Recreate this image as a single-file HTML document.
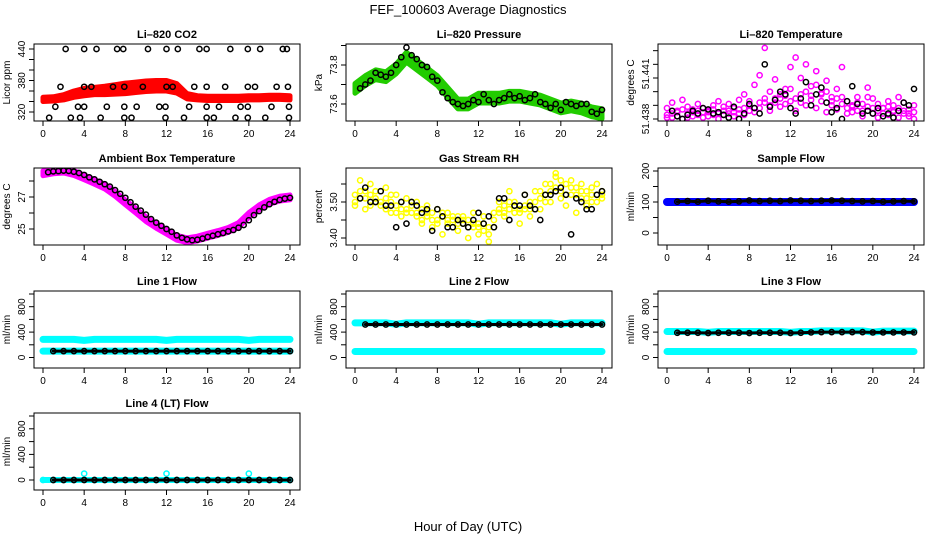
<!DOCTYPE html>
<html><head><meta charset="utf-8">
<style>
html,body{margin:0;padding:0;background:#fff;}
svg{display:block;font-family:"Liberation Sans",Arial,sans-serif;}
</style></head>
<body>
<svg id="chart" width="936" height="540" viewBox="0 0 936 540" xmlns="http://www.w3.org/2000/svg">
<rect width="936" height="540" fill="#fff"/>
<text x="468" y="14" font-size="13" text-anchor="middle">FEF_100603  Average Diagnostics</text>
<text x="468" y="531" font-size="13" text-anchor="middle">Hour of Day (UTC)</text>
</svg>
<script>
const HOURS = [0,0.5,1,1.5,2,2.5,3,3.5,4,4.5,5,5.5,6,6.5,7,7.5,8,8.5,9,9.5,10,10.5,11,11.5,12,12.5,13,13.5,14,14.5,15,15.5,16,16.5,17,17.5,18,18.5,19,19.5,20,20.5,21,21.5,22,22.5,23,23.5,24];
const HOURLY = [0,1,2,3,4,5,6,7,8,9,10,11,12,13,14,15,16,17,18,19,20,21,22,23,24];
const X_TICKS = [0,4,8,12,16,20,24];

// CO2
const co2Band = [344,345,348,354,358,360,361,363,365,367,369,370,370,365,350,347,346,346,346,346,347,347,348,348,347];
const co2Spread = [4,4,5,6,7,7,8,9,10,10,10,10,10,9,5,4,4,4,4,4,4,4,4,4,4];
const co2BlackHours = [2.2,4.0,5.2,7.2,7.8,10.2,12.0,13.1,15.2,15.9,18.2,19.9,21.1,23.3,23.7, 1.7,4.0,4.7,6.8,7.9,9.7,12.0,12.6,14.7,15.9,17.7,19.9,20.6,22.7,23.8, 1.2,3.4,4.0,6.2,7.9,9.1,11.3,11.9,14.2,15.9,17.1,19.2,19.9,22.2,23.9, 0.6,2.7,3.6,5.6,7.9,8.6,11.9,13.7,15.9,16.6,18.7,19.9,21.6,23.9];
const co2BlackVals = [440,440,440,440,440,440,440,440,440,440,440,440,440,440,440, 368,368,368,368,368,368,368,368,368,368,368,368,368,368,368, 330,330,330,330,330,330,330,330,330,330,330,330,330,330,330, 309,309,309,309,309,309,309,309,309,309,309,309,309,309];

// Pressure
const presBand = [73.68,73.72,73.75,73.74,73.78,73.84,73.80,73.76,73.72,73.66,73.60,73.60,73.63,73.63,73.63,73.64,73.64,73.63,73.62,73.60,73.58,73.59,73.58,73.56,73.55];
const presSpread = [0.025,0.025,0.025,0.025,0.025,0.025,0.025,0.025,0.025,0.025,0.025,0.025,0.025,0.025,0.025,0.025,0.025,0.025,0.025,0.025,0.025,0.025,0.025,0.025,0.025];
const presBlack = [73.68,73.70,73.72,73.76,73.75,73.74,73.76,73.80,73.84,73.89,73.85,73.83,73.80,73.79,73.74,73.72,73.66,73.63,73.61,73.60,73.59,73.60,73.62,73.61,73.65,73.62,73.60,73.62,73.63,73.65,73.63,73.64,73.62,73.63,73.65,73.61,73.60,73.58,73.60,73.57,73.61,73.60,73.59,73.60,73.60,73.56,73.55,73.57];

// Li-820 temperature
const ltempA = [51.4383,51.4381,51.4385,51.4380,51.4384,51.4382,51.4386,51.4381,51.4385,51.4383,51.4380,51.4386,51.4384,51.4382,51.4387,51.4383,51.4390,51.4385,51.4388,51.4392,51.4386,51.4395,51.4389,51.4397,51.4393,51.4386,51.4398,51.4390,51.4394,51.4388,51.4399,51.4385,51.4393,51.4387,51.4396,51.4384,51.4390,51.4386,51.4382,51.4389,51.4384,51.4381,51.4388,51.4383,51.4386,51.4381,51.4384,51.4382,51.4380];
const ltempB = [51.4388,51.4392,51.4386,51.4394,51.4389,51.4387,51.4391,51.4388,51.4386,51.4390,51.4393,51.4389,51.4391,51.4388,51.4394,51.4398,51.4393,51.4405,51.4412,51.4432,51.4400,51.4409,51.4395,51.4402,51.4418,51.4425,51.4410,51.4420,51.4404,51.4415,51.4398,51.4408,51.4396,51.4402,51.4418,51.4393,51.4389,51.4396,51.4391,51.4403,51.4395,51.4391,51.4388,51.4393,51.4390,51.4396,51.4392,51.4387,51.4390];
const ltempC = [51.4381,51.4384,51.4382,51.4387,51.4381,51.4385,51.4383,51.4385,51.4382,51.4387,51.4384,51.4383,51.4386,51.4385,51.4384,51.4388,51.4386,51.4388,51.4392,51.4395,51.4390,51.4392,51.4398,51.4391,51.4402,51.4395,51.4392,51.4400,51.4397,51.4405,51.4393,51.4400,51.4390,51.4395,51.4391,51.4388,51.4385,51.4392,51.4386,51.4396,51.4388,51.4386,51.4384,51.4389,51.4385,51.4388,51.4386,51.4384,51.4385];
const ltempBlack = [51.4386,51.4382,51.4380,51.4383,51.4386,51.4384,51.4388,51.4387,51.4384,51.4385,51.4383,51.4381,51.4389,51.4380,51.4384,51.4391,51.4388,51.4384,51.4420,51.4389,51.4394,51.4400,51.4398,51.4388,51.4384,51.4395,51.4407,51.4390,51.4398,51.4403,51.4392,51.4385,51.4388,51.4380,51.4393,51.4404,51.4391,51.4384,51.4386,51.4384,51.4388,51.4382,51.4384,51.4381,51.4386,51.4392,51.4390,51.4402];

// Ambient box temperature
const ambBand = [28.48,28.6,28.65,28.5,28.23,27.95,27.65,27.2,26.67,26.15,25.62,25.2,24.83,24.45,24.3,24.4,24.58,24.75,24.94,25.25,25.87,26.35,26.7,26.9,26.98];
const ambSpread = [0.15,0.15,0.15,0.15,0.15,0.15,0.15,0.15,0.15,0.15,0.15,0.15,0.15,0.15,0.15,0.15,0.15,0.15,0.15,0.15,0.15,0.15,0.15,0.15,0.15];
const ambBlack = [28.55,28.6,28.62,28.65,28.63,28.58,28.5,28.38,28.23,28.1,27.95,27.8,27.65,27.43,27.2,26.95,26.67,26.4,26.15,25.9,25.62,25.4,25.2,25.0,24.83,24.6,24.45,24.35,24.3,24.33,24.4,24.5,24.58,24.67,24.75,24.85,24.94,25.08,25.25,25.55,25.87,26.12,26.35,26.55,26.7,26.82,26.9,26.95];

// Gas stream RH
const rhA = [3.49,3.51,3.53,3.52,3.50,3.53,3.51,3.50,3.49,3.50,3.48,3.49,3.47,3.48,3.46,3.47,3.45,3.46,3.44,3.45,3.46,3.44,3.45,3.43,3.44,3.42,3.41,3.45,3.47,3.49,3.48,3.50,3.47,3.49,3.48,3.50,3.51,3.52,3.55,3.57,3.53,3.55,3.52,3.54,3.51,3.53,3.50,3.52,3.51];
const rhB = [3.52,3.56,3.48,3.55,3.53,3.49,3.54,3.47,3.52,3.46,3.51,3.47,3.50,3.44,3.49,3.43,3.48,3.41,3.47,3.43,3.42,3.46,3.40,3.47,3.41,3.46,3.39,3.43,3.50,3.46,3.53,3.47,3.44,3.52,3.46,3.53,3.48,3.55,3.50,3.58,3.56,3.49,3.56,3.47,3.55,3.49,3.54,3.55,3.53];
const rhC = [3.50,3.53,3.51,3.49,3.51,3.50,3.48,3.52,3.47,3.48,3.47,3.50,3.46,3.45,3.47,3.45,3.44,3.47,3.45,3.46,3.44,3.45,3.43,3.44,3.43,3.44,3.43,3.47,3.48,3.47,3.50,3.49,3.48,3.48,3.50,3.48,3.53,3.50,3.53,3.54,3.51,3.52,3.54,3.52,3.53,3.51,3.52,3.50,3.52];
const rhBlack = [3.51,3.54,3.50,3.50,3.53,3.49,3.49,3.43,3.50,3.44,3.50,3.49,3.47,3.48,3.42,3.48,3.46,3.43,3.43,3.45,3.44,3.43,3.45,3.47,3.44,3.46,3.43,3.51,3.51,3.45,3.49,3.49,3.52,3.49,3.48,3.45,3.52,3.52,3.53,3.54,3.52,3.41,3.51,3.50,3.48,3.48,3.52,3.53];

// Flows (hourly)
const sampleBlue  = [100,100,100,100,100,100,100,100,100,100,100,100,100,100,100,100,100,100,100,100,100,100,100,100,100];
const sampleBlack = [100,101,103,101,104,102,101,102,105,103,104,103,105,104,103,104,105,104,103,102,103,101,102,103,102];
const line1High  = [285,285,285,285,270,285,285,285,285,285,285,285,270,285,285,285,285,285,285,285,270,285,285,285,285];
const line1Low   = [100,100,100,100,100,100,100,100,100,100,100,100,100,100,100,100,100,100,100,100,100,100,100,100,100];
const line1Black = [100,100,100,100,100,100,100,100,100,100,100,100,100,100,100,100,100,100,100,100,100,100,100,100,100];
const line2High  = [545,545,545,545,525,545,545,545,545,545,545,545,525,545,545,545,545,545,545,545,525,545,545,545,545];
const line2Low   = [95,95,95,95,95,95,95,95,95,95,95,95,95,95,95,95,95,95,95,95,95,95,95,95,95];
const line2Black = [520,520,520,520,520,520,520,520,520,520,520,520,520,520,520,520,520,520,520,520,520,520,520,520,520];
const line3High  = [410,410,410,410,395,410,410,410,410,410,410,410,395,410,410,420,420,420,420,420,400,415,415,415,415];
const line3Low   = [95,95,95,95,95,95,95,95,95,95,95,95,95,95,95,95,95,95,95,95,95,95,95,95,95];
const line3Black = [390,390,390,390,385,390,390,390,385,390,390,390,385,390,395,400,400,400,400,400,395,395,395,395,395];
const line4Cyan  = [0,0,0,0,100,0,0,0,0,0,0,0,100,0,0,0,0,0,0,0,100,0,0,0,0];
const line4Black = [0,0,0,0,0,0,0,0,0,0,0,0,0,0,0,0,0,0,0,0,0,0,0,0,0];

const CO2_TICKS=[320,340,360,380,400,420,440], CO2_LABELS=[320,380,440];
const PRES_TICKS=[73.6,73.7,73.8,73.9], PRES_LABELS=[73.6,73.8];
const LT_TICKS=[51.438,51.439,51.440,51.441,51.442,51.443];
const AMB_TICKS=[25,26,27,28], AMB_LABELS=[25,27];
const RH_TICKS=[3.40,3.45,3.50,3.55], RH_LABELS=[3.40,3.50];
const SF_TICKS=[0,50,100,150,200], SF_LABELS=[0,100,200];
const FL_TICKS=[0,200,400,600,800,1000], FL_LABELS=[0,400,800];

const svg=document.getElementById('chart');
const NS='http://www.w3.org/2000/svg';
const COLS=[34,346,658], ROWS=[44,168,291,413], W=266, H=77;
function mk(tag,attrs,parent){const e=document.createElementNS(NS,tag);for(const k in attrs)e.setAttribute(k,attrs[k]);(parent||svg).appendChild(e);return e;}

function panel(o){
  const L=COLS[o.col], T=ROWS[o.row];
  const g=mk('g',{});
  
  
  const xs=h=>L+9+h*10.2917;
  const ys=v=>T+o.a[1]+(v-o.a[0])*(o.b[1]-o.a[1])/(o.b[0]-o.a[0]);
  const cid='c'+o.name;
  const cp=mk('clipPath',{id:cid},g); mk('rect',{x:L,y:T,width:W,height:H},cp);
  const plot=mk('g',{'clip-path':'url(#'+cid+')'},g);
  const box=mk('rect',{x:L,y:T,width:W,height:H,fill:'none',stroke:'#000','stroke-width':1},g);
  
  
  const t=mk('text',{x:L+W/2,y:T-6,'font-size':11,'font-weight':'bold','text-anchor':'middle'},g);
  t.textContent=o.title;
  
  
  const yl=mk('text',{x:0,y:0,'font-size':10,'text-anchor':'middle',transform:`translate(${L-24},${T+H/2}) rotate(-90)`},g);
  yl.textContent=o.ylab;
  
  
  X_TICKS.forEach(h=>{
    mk('line',{x1:xs(h),x2:xs(h),y1:T+H,y2:T+H+5,stroke:'#000'},g);
    const tx=mk('text',{x:xs(h),y:T+H+16,'font-size':10,'text-anchor':'middle'},g);
    tx.textContent=h;
    
    
  });
  o.ticks.forEach(v=>{const y=ys(v); if(y>=T-1&&y<=T+H+1) mk('line',{x1:L-5,x2:L,y1:y,y2:y,stroke:'#000'},g);});
  o.labels.forEach(lv=>{
    const v=Array.isArray(lv)?lv[0]:lv, txt=Array.isArray(lv)?lv[1]:String(lv);
    const ty=mk('text',{x:0,y:0,'font-size':10,'text-anchor':'middle',transform:`translate(${L-9},${ys(v)}) rotate(-90)`},g);
    ty.textContent=txt;
    
    
  });
  o.draw(plot,xs,ys);
}
function band(p,xs,ys,hours,center,spread,color,name){
  let up=hours.map((h,i)=>xs(h)+','+ys(center[i]+spread[i]));
  let dn=hours.map((h,i)=>xs(h)+','+ys(center[i]-spread[i])).reverse();
  const e=mk('polygon',{points:up.concat(dn).join(' '),fill:color,stroke:color,'stroke-width':5,'stroke-linejoin':'round'},p);
  
  
}
function line(p,xs,ys,hours,vals,color,w,name){
  const e=mk('polyline',{points:hours.map((h,i)=>xs(h)+','+ys(vals[i])).join(' '),fill:'none',stroke:color,'stroke-width':w,'stroke-linecap':'round','stroke-linejoin':'round'},p);
  
  
}
function pts(p,xs,ys,hours,vals,color,name){
  vals.forEach((v,i)=>{
    const c=mk('circle',{cx:xs(hours[i]),cy:ys(v),r:2.6,fill:'none',stroke:color,'stroke-width':1.5},p);
    
    
  });
}
const HB=HOURS.slice(1);

panel({name:'co2',col:0,row:0,title:'Li\u2013820 CO2',ylab:'Licor ppm',a:[440,5],b:[320,68],ticks:CO2_TICKS,labels:CO2_LABELS,
  draw:(p,xs,ys)=>{band(p,xs,ys,HOURLY,co2Band,co2Spread,'#ff0000','co2-band');pts(p,xs,ys,co2BlackHours,co2BlackVals,'#000','co2-point');}});
panel({name:'pressure',col:1,row:0,title:'Li\u2013820 Pressure',ylab:'kPa',a:[73.8,21],b:[73.6,60],ticks:PRES_TICKS,labels:PRES_LABELS,
  draw:(p,xs,ys)=>{band(p,xs,ys,HOURLY,presBand,presSpread,'#22cc00','pressure-band');pts(p,xs,ys,HB,presBlack,'#000','pressure-point');}});
panel({name:'li-temp',col:2,row:0,title:'Li\u2013820 Temperature',ylab:'degrees C',a:[51.441,34],b:[51.438,75],ticks:LT_TICKS,labels:[[51.438,'51.438'],[51.4413,'51.441']],
  draw:(p,xs,ys)=>{pts(p,xs,ys,HOURS,ltempA,'#ff00ff','li-temp-magenta');pts(p,xs,ys,HOURS,ltempC,'#ff00ff','li-temp-magenta');pts(p,xs,ys,HOURS,ltempB,'#ff00ff','li-temp-magenta');pts(p,xs,ys,HB,ltempBlack,'#000','li-temp-point');}});
panel({name:'ambient',col:0,row:1,title:'Ambient Box Temperature',ylab:'degrees C',a:[27,29],b:[25,61],ticks:AMB_TICKS,labels:AMB_LABELS,
  draw:(p,xs,ys)=>{band(p,xs,ys,HOURLY,ambBand,ambSpread,'#ff00ff','ambient-band');pts(p,xs,ys,HB,ambBlack,'#000','ambient-point');}});
panel({name:'rh',col:1,row:1,title:'Gas Stream RH',ylab:'percent',a:[3.5,34],b:[3.4,70],ticks:RH_TICKS,labels:RH_LABELS.map(v=>[v,v.toFixed(2)]),
  draw:(p,xs,ys)=>{pts(p,xs,ys,HOURS,rhA,'#ffff00','rh-yellow');pts(p,xs,ys,HOURS,rhC,'#ffff00','rh-yellow');pts(p,xs,ys,HOURS,rhB,'#ffff00','rh-yellow');pts(p,xs,ys,HB,rhBlack,'#000','rh-point');}});
panel({name:'sample-flow',col:2,row:1,title:'Sample Flow',ylab:'ml/min',a:[200,3],b:[0,65],ticks:SF_TICKS,labels:SF_LABELS,
  draw:(p,xs,ys)=>{line(p,xs,ys,HOURLY,sampleBlue,'#0000ff',8,'sample-flow-band');line(p,xs,ys,HOURLY.slice(1),sampleBlack.slice(1),'#000',3,'sample-flow-black');pts(p,xs,ys,HOURLY.slice(1),sampleBlack.slice(1),'#000','sample-flow-point');}});
const flowCfg={a:[1000,3],b:[0,66.5],ticks:FL_TICKS,labels:FL_LABELS,ylab:'ml/min'};
panel(Object.assign({name:'line1',col:0,row:2,title:'Line 1 Flow',draw:(p,xs,ys)=>{
  line(p,xs,ys,HOURLY,line1High,'#00ffff',7,'line1-cyan-high');line(p,xs,ys,HOURLY,line1Low,'#00ffff',7,'line1-cyan-low');
  line(p,xs,ys,HOURLY.slice(1),line1Black.slice(1),'#000',3,'line1-black');pts(p,xs,ys,HOURLY.slice(1),line1Black.slice(1),'#000','line1-point');}},flowCfg));
panel(Object.assign({name:'line2',col:1,row:2,title:'Line 2 Flow',draw:(p,xs,ys)=>{
  line(p,xs,ys,HOURLY,line2High,'#00ffff',7,'line2-cyan-high');line(p,xs,ys,HOURLY,line2Low,'#00ffff',7,'line2-cyan-low');
  line(p,xs,ys,HOURLY.slice(1),line2Black.slice(1),'#000',3,'line2-black');pts(p,xs,ys,HOURLY.slice(1),line2Black.slice(1),'#000','line2-point');}},flowCfg));
panel(Object.assign({name:'line3',col:2,row:2,title:'Line 3 Flow',draw:(p,xs,ys)=>{
  line(p,xs,ys,HOURLY,line3High,'#00ffff',7,'line3-cyan-high');line(p,xs,ys,HOURLY,line3Low,'#00ffff',7,'line3-cyan-low');
  line(p,xs,ys,HOURLY.slice(1),line3Black.slice(1),'#000',3,'line3-black');pts(p,xs,ys,HOURLY.slice(1),line3Black.slice(1),'#000','line3-point');}},flowCfg));
panel(Object.assign({name:'line4',col:0,row:3,title:'Line 4 (LT) Flow',draw:(p,xs,ys)=>{
  line(p,xs,ys,HOURLY,line4Black,'#00ffff',6,'line4-cyan');pts(p,xs,ys,HOURLY,line4Cyan,'#00ffff','line4-cyan-point');
  line(p,xs,ys,HOURLY.slice(1),line4Black.slice(1),'#000',3,'line4-black');pts(p,xs,ys,HOURLY.slice(1),line4Black.slice(1),'#000','line4-point');}},{a:[1000,3],b:[0,67],ticks:FL_TICKS,labels:FL_LABELS,ylab:'ml/min'}));
</script>
</body></html>
